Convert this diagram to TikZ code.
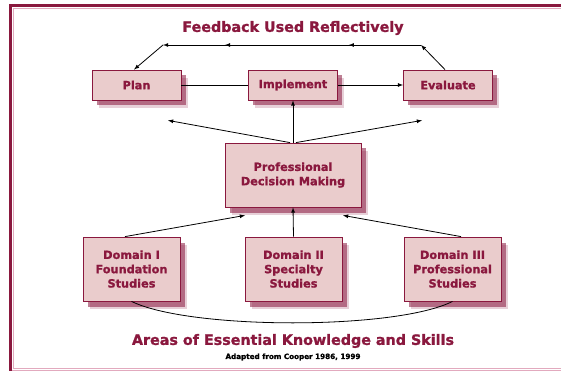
\documentclass[tikz,border=0pt]{standalone}
\usepackage{fontspec}
\setmainfont[BoldFeatures={FakeBold=1.2}]{DejaVu Sans}
\usetikzlibrary{shadows}
\usetikzlibrary{decorations.markings}
\definecolor{wine}{RGB}{138,24,62}
\definecolor{rosefill}{RGB}{234,204,204}
\definecolor{rosefaint}{RGB}{226,170,190}

\begin{document}
\begin{tikzpicture}[x=1pt,y=-1pt,
  box/.style={draw=wine,line width=0.8pt,fill=rosefill,text=wine,align=center,inner sep=0pt,
    font=\bfseries\fontsize{11.3}{14.3}\selectfont,
    drop shadow={shadow xshift=6.5pt,shadow yshift=-8pt,fill=wine,opacity=0.2},
    drop shadow={shadow xshift=4.5pt,shadow yshift=-5.5pt,fill=wine,opacity=0.55}},
  stepbox/.style={box,minimum width=89pt,minimum height=30pt},
  domainbox/.style={box,minimum width=97pt,minimum height=64pt},
  link/.style={line width=0.8pt,black},
  arr/.style={link,-latex},
  midarrows/.style={postaction={decorate},decoration={markings,
    mark=at position 0.28 with {\arrow{latex}},
    mark=at position 0.76 with {\arrow{latex}}}},
  heading/.style={text=wine,font=\bfseries\fontsize{14.3}{16}\selectfont}]
 \useasboundingbox (0,0) rectangle (561,371);
 \fill[white] (0,0) rectangle (561,371);
 % frame
 \draw[rosefaint,line width=1pt] (13.5,8.5) rectangle (580,368);
 \draw[rosefaint,line width=0.8pt] (10,370.5) -- (580,370.5);
 \draw[wine,line width=2.6pt] (10.5,371) -- (10.5,5.5) -- (580,5.5);
 % titles
 \node[heading] (fbtitle) at (293,28) {Feedback Used Reflectively};
 \node[heading] (areas) at (293,341) {Areas of Essential Knowledge and Skills};
 \node[font=\bfseries\fontsize{7.2}{8}\selectfont] (credit) at (293,357) {Adapted from Cooper 1986, 1999};
 % cycle
 \node[stepbox] (plan) at (136.5,85) {Plan};
 \node[stepbox] (impl) at (293,85) {Implement};
 \node[stepbox] (eval) at (448,85) {Evaluate};
 \node[box,minimum width=136pt,minimum height=64pt] (pdm) at (293,175) {Professional\\Decision Making};
 % domains
 \node[domainbox] (dom1) at (131.5,269) {Domain I\\Foundation\\Studies};
 \node[domainbox] (dom2) at (293.5,269) {Domain II\\Specialty\\Studies};
 \node[domainbox] (dom3) at (452.5,269) {Domain III\\Professional\\Studies};
 % feedback loop
 \coordinate (fbR) at (421,45);
 \coordinate (fbL) at (163,45);
 \draw[arr] ([xshift=-3pt]eval.north) -- (fbR);
 \draw[arr,midarrows] (fbR) -- (fbL);
 \draw[arr] (fbL) -- ([xshift=-2.5pt]plan.north);
 \draw[link] (plan) -- (impl);
 \draw[arr] (impl) -- (eval);
 % decision making feeds the cycle
 \draw[arr] ([xshift=-3pt]pdm.north) -- ([shift={(31.5,20)}]plan.south);
 \draw[arr] (pdm.north) -- (impl.south);
 \draw[arr] ([xshift=3pt]pdm.north) -- ([shift={(-26,20)}]eval.south);
 % domains feed decision making
 \draw[arr] ([xshift=-6.5pt]dom1.north) -- ([shift={(-48,8)}]pdm.south);
 \draw[arr] (dom2.north) -- (pdm.south);
 \draw[arr] ([xshift=8.5pt]dom3.north) -- ([shift={(50,8)}]pdm.south);
 \draw[link] (dom1.south) .. controls (190,330) and (396,330) .. (dom3.south);
\end{tikzpicture}
\end{document}
